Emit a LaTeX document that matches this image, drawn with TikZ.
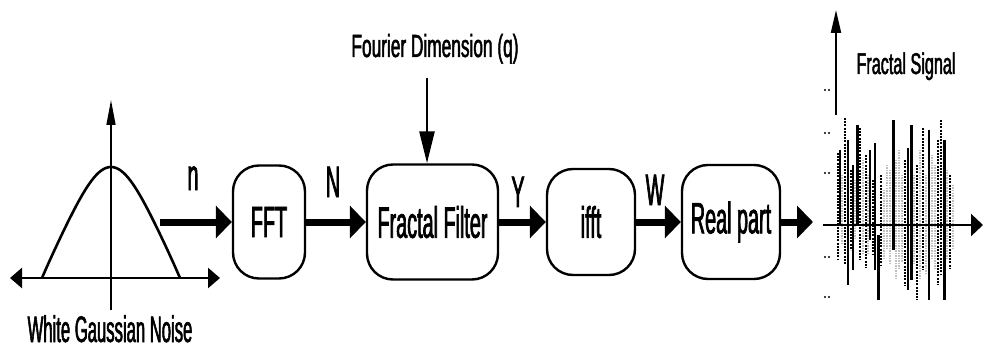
\documentclass[tikz,border=0pt]{standalone}
\usepackage{fontspec}
\newfontfamily\nf[FakeStretch=0.45,FakeBold=1.5]{Liberation Sans}
\newfontfamily\nfw[FakeStretch=0.54,FakeBold=1.5]{Liberation Sans}
\usetikzlibrary{arrows.meta}
\begin{document}
\begin{tikzpicture}[x=1pt,y=-1pt,
  blk/.style={draw, line width=2.4pt, rounded corners=26pt, inner sep=0pt,
    font=\nf\fontsize{44}{48}\selectfont},
  flow/.style={line width=7pt, -{Triangle[length=16pt,width=32pt]}},
  lbl/.style={font=\nf\fontsize{44}{48}\selectfont, anchor=base, inner sep=0pt},
  captext/.style={font=\nfw\fontsize{32}{36}\selectfont, anchor=base, inner sep=0pt},
  axisline/.style={line width=2.5pt},
  sig/.style={line width=1.1pt, black},
  sigd/.style={line width=1.6pt, black, dash pattern=on 2pt off 1.2pt},
  sigg/.style={line width=2.2pt, gray!50, dash pattern=on 1.5pt off 1pt},
]
\useasboundingbox (0,0) rectangle (983,350);

% Gaussian
\coordinate (gl) at (10,278);
\coordinate (gr) at (220,278);
\coordinate (gb) at (111,310);
\coordinate (gt) at (111,100);
\draw[axisline, {Triangle[length=12pt,width=20pt]}-{Triangle[length=12pt,width=20pt]}] (gl) -- (gr);
\draw[line width=1.5pt, -{Triangle[length=25pt,width=9pt]}] (gb) -- (gt);
\draw[line width=2.6pt, line join=round] plot[domain=-69:69, samples=70]
  ({111+\x},{278-111*(0.35*(exp(-\x*\x/1800)-0.071)/0.929+0.65*(1-\x*\x/4761))});
\node[captext, font=\nf\fontsize{37}{40}\selectfont] (wgn) at (110,342) {White Gaussian Noise};

% Blocks
\node[blk, minimum width=72pt, minimum height=113pt] (fft) at (269,222) {FFT};
\node[blk, minimum width=131pt, minimum height=115pt] (ff) at (432.5,222) {Fractal Filter};
\node[blk, minimum width=88pt, minimum height=106pt] (ifft) at (591,222) {ifft};
\node[blk, minimum width=98pt, minimum height=114pt] (rp) at (731,222) {Real part};

% Flow arrows
\coordinate (nin) at (160,222);
\coordinate (out) at (813,222);
\draw[flow] (nin) -- (fft.west);
\draw[flow] (fft.east) -- (ff.west);
\draw[flow] (ff.east) -- (ifft.west);
\draw[flow] (ifft.east) -- (rp.west);
\draw[flow] (rp.east) -- (out);

\node[lbl] (ln) at (193,190) {n};
\node[lbl] (lN) at (333,197) {N};
\node[lbl] (lY) at (518,207) {Y};
\node[lbl] (lW) at (655,205) {W};

% Fourier dimension
\node[captext] (fd) at (435,57) {Fourier Dimension (q)};
\coordinate (fdtop) at (427,78);
\draw[line width=2.5pt, -{Triangle[length=32pt,width=15pt]}] (fdtop) -- (fdtop |- ff.north);

% Fractal signal
\coordinate (vb) at (836,115);
\coordinate (vt) at (836,10);
\coordinate (hl) at (823,225);
\coordinate (hr) at (983,225);
\draw[line width=2pt, -{Triangle[length=23pt,width=10pt]}] (vb) -- (vt);
\node[captext, font=\nfw\fontsize{30}{34}\selectfont] (fs) at (906,74) {Fractal Signal};
\foreach \x/\t/\b in {842/175/245, 855/180/240, 868/175/255, 887/165/250, 899/150/270,
  920/150/280, 935/165/270, 953/185/250, 863/160/255, 884/190/258, 902/175/262,
  914/175/265, 926/175/275, 932/155/258, 947/170/260, 896/160/280, 890/170/265}
  \draw[sigg] (\x,\t) -- (\x,\b);
\foreach \x/\t/\b in {838/153/260, 845/118/265, 851/170/250,
  860/128/260, 866/155/268, 873/180/255, 881/175/265,
  905/160/285, 917/165/300, 923/128/270, 938/140/285, 941/120/275, 950/175/268}
  \draw[sigd] (\x,\t) -- (\x,\b);
\foreach \x/\t/\b in {840/150/225, 848/140/285, 853/165/270, 870/150/240, 875/143/270,
  908/148/290, 929/130/300}
  \draw[sig] (\x,\t) -- (\x,\b);
\foreach \x/\t/\b in {857/125/225, 878/235/300, 893/120/250, 911/125/280, 944/140/300}
  \draw[line width=3pt] (\x,\t) -- (\x,\b);
\draw[axisline, -{Triangle[length=12pt,width=22pt]}] (hl) -- (hr);
\foreach \y in {90,133,173,257,297}
  \fill (825,\y) circle (1.2pt) (829,\y) circle (1.2pt);
\end{tikzpicture}
\end{document}
